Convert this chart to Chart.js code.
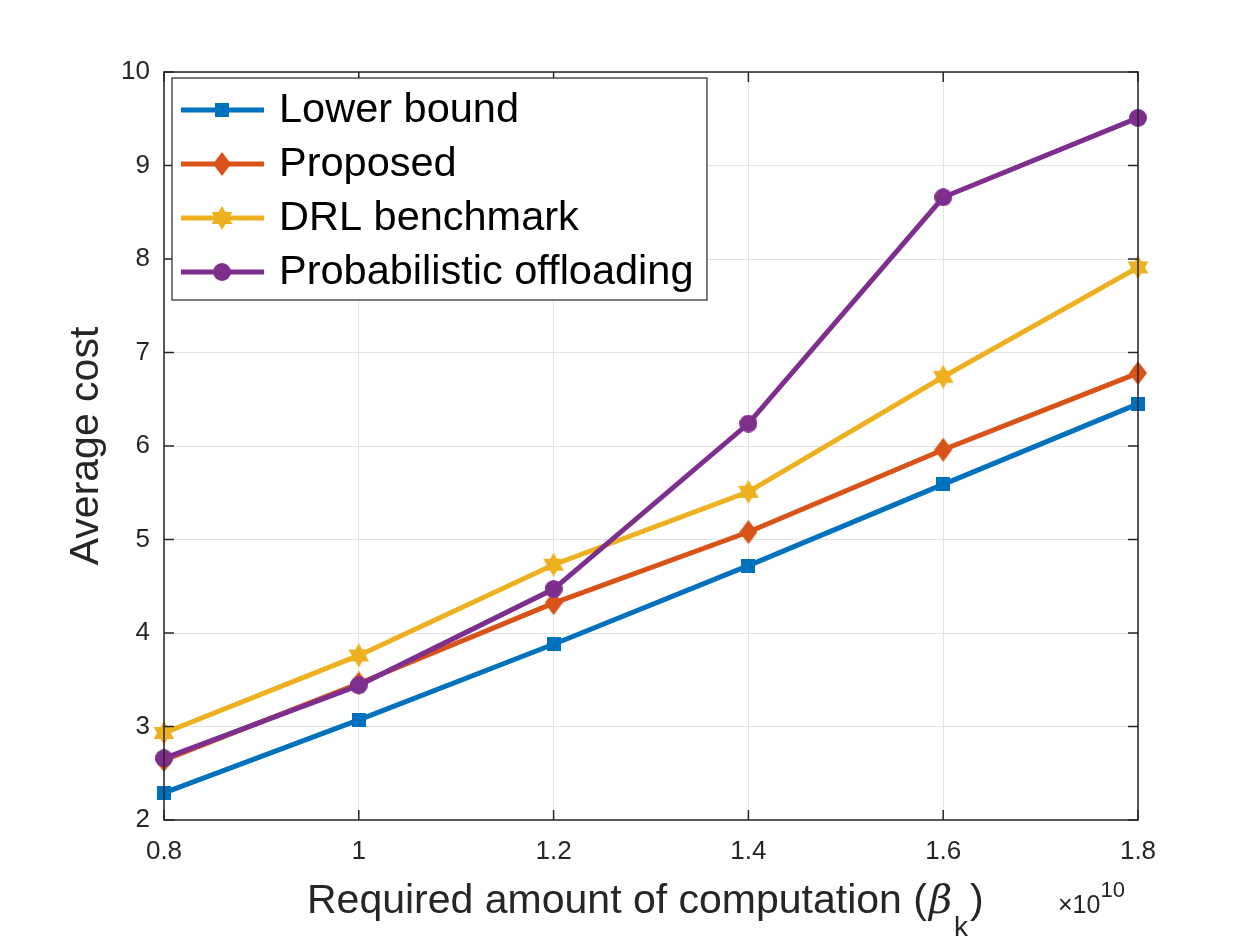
<!DOCTYPE html>
<html>
<head>
<meta charset="utf-8">
<script src="https://cdn.jsdelivr.net/npm/chart.js@4"></script>
<style>
  html, body { margin: 0; padding: 0; background: #fff; }
  #wrap { width: 1260px; height: 945px; }
</style>
</head>
<body>
<div id="wrap"><canvas id="grafikCost" width="1260" height="945"></canvas></div>
<script>
const xValues = [0.8, 1.0, 1.2, 1.4, 1.6, 1.8];
const xTickLabels = ['0.8', '1', '1.2', '1.4', '1.6', '1.8'];
const yTickValues = [2, 3, 4, 5, 6, 7, 8, 9, 10];
const lowerBound = [2.29, 3.07, 3.88, 4.72, 5.59, 6.45];
const proposed = [2.64, 3.46, 4.32, 5.08, 5.96, 6.78];
const drlBenchmark = [2.93, 3.76, 4.73, 5.51, 6.74, 7.91];
const probOffloading = [2.66, 3.44, 4.47, 6.24, 8.66, 9.51];
const seriesNames = ['Lower bound', 'Proposed', 'DRL benchmark', 'Probabilistic offloading'];

const FONT = '"Liberation Sans", Arial, sans-serif';
const AXIS = '#262626';

// marker images (MATLAB style: square, diamond, hexagram, circle)
function makeMarker(kind, color) {
    const c = document.createElement('canvas');
    const w = kind === 'diamond' ? 18 : (kind === 'hexagram' ? 24 : (kind === 'square' ? 14 : 18));
    const h = kind === 'diamond' ? 24 : (kind === 'hexagram' ? 24 : (kind === 'square' ? 14 : 18));
    c.width = w; c.height = h;
    const g = c.getContext('2d');
    g.fillStyle = color;
    g.beginPath();
    if (kind === 'square') {
        g.rect(0, 0, w, h);
    } else if (kind === 'diamond') {
        g.moveTo(w / 2, 0); g.lineTo(w, h / 2); g.lineTo(w / 2, h); g.lineTo(0, h / 2);
    } else if (kind === 'circle') {
        g.arc(w / 2, h / 2, w / 2, 0, Math.PI * 2);
    } else {
        const R = 12, r = R / Math.sqrt(3);
        for (let i = 0; i < 12; i++) {
            const rad = i % 2 === 0 ? R : r;
            const a = -Math.PI / 2 + i * Math.PI / 6;
            const px = w / 2 + rad * Math.cos(a), py = h / 2 + rad * Math.sin(a);
            if (i === 0) g.moveTo(px, py); else g.lineTo(px, py);
        }
    }
    g.closePath();
    g.fill();
    return c;
}

const colors = ['#0072BD', '#D95319', '#EDB120', '#7E2F8E'];
const kinds = ['square', 'diamond', 'hexagram', 'circle'];
const markers = kinds.map((k, i) => makeMarker(k, colors[i]));
const seriesData = [lowerBound, proposed, drlBenchmark, probOffloading];

const datasets = seriesData.map((vals, i) => ({
    label: seriesNames[i],
    data: vals.map((v, j) => ({ x: xValues[j], y: v })),
    borderColor: colors[i],
    backgroundColor: colors[i],
    borderWidth: 5,
    pointStyle: markers[i],
    pointRadius: 8,
    order: 4 - i,
    clip: false,
    tension: 0
}));

const matlabFrame = {
    id: 'matlabFrame',
    afterDatasetsDraw(chart) {
        const { ctx, chartArea: a, scales } = chart;
        ctx.save();
        // box
        ctx.strokeStyle = AXIS;
        ctx.lineWidth = 1.5;
        ctx.strokeRect(a.left, a.top, a.right - a.left, a.bottom - a.top);
        // inward ticks
        ctx.beginPath();
        xValues.forEach(v => {
            const px = scales.x.getPixelForValue(v);
            ctx.moveTo(px, a.bottom); ctx.lineTo(px, a.bottom - 10);
            ctx.moveTo(px, a.top); ctx.lineTo(px, a.top + 10);
        });
        yTickValues.forEach(v => {
            const py = scales.y.getPixelForValue(v);
            ctx.moveTo(a.left, py); ctx.lineTo(a.left + 10, py);
            ctx.moveTo(a.right, py); ctx.lineTo(a.right - 10, py);
        });
        ctx.stroke();

        // legend box
        const lx = 172, ly = 78, lw = 535, lh = 222;
        ctx.fillStyle = '#fff';
        ctx.fillRect(lx, ly, lw, lh);
        ctx.strokeStyle = AXIS;
        ctx.lineWidth = 1.2;
        ctx.strokeRect(lx, ly, lw, lh);
        ctx.font = '41.5px ' + FONT;
        ctx.textBaseline = 'middle';
        ctx.textAlign = 'left';
        seriesNames.forEach((name, i) => {
            const cy = 110 + i * 54;
            ctx.strokeStyle = colors[i];
            ctx.lineWidth = 5;
            ctx.beginPath();
            ctx.moveTo(181, cy); ctx.lineTo(264, cy);
            ctx.stroke();
            const m = markers[i];
            ctx.drawImage(m, 222 - m.width / 2, cy - m.height / 2);
            ctx.fillStyle = '#000';
            ctx.fillText(name, 279, cy + 1);
        });

        // axis titles
        ctx.fillStyle = AXIS;
        ctx.save();
        ctx.translate(87, (a.top + a.bottom) / 2);
        ctx.rotate(-Math.PI / 2);
        ctx.textAlign = 'center';
        ctx.textBaseline = 'middle';
        ctx.font = '41px ' + FONT;
        ctx.fillText('Average cost', 0, 0);
        ctx.restore();

        ctx.textBaseline = 'alphabetic';
        ctx.textAlign = 'left';
        ctx.font = '41px ' + FONT;
        const base = 913;
        const part1 = 'Required amount of computation (';
        ctx.fillText(part1, 307, base);
        let x = 307 + ctx.measureText(part1).width + 2;
        ctx.font = 'italic 40px "DejaVu Serif", serif';
        ctx.fillText('\u03B2', x, base);
        x += ctx.measureText('\u03B2').width + 2;
        ctx.font = '28px ' + FONT;
        ctx.fillText('k', x, base + 23);
        x += ctx.measureText('k').width + 2;
        ctx.font = '41px ' + FONT;
        ctx.fillText(')', x, base);

        // exponent label
        ctx.font = '25px ' + FONT;
        ctx.fillText('\u00D710', 1058, 913);
        const ew = ctx.measureText('\u00D710').width;
        ctx.font = '22px ' + FONT;
        ctx.fillText('10', 1058 + ew, 897);
        ctx.restore();
    }
};

const ctx = document.getElementById('grafikCost').getContext('2d');
const chart = new Chart(ctx, {
    type: 'line',
    data: { datasets: datasets },
    plugins: [matlabFrame],
    options: {
        responsive: false,
        animation: false,
        devicePixelRatio: 1,
        layout: { padding: { top: 72, right: 122, left: 0, bottom: 0 } },
        plugins: { legend: { display: false }, tooltip: { enabled: false } },
        scales: {
            x: {
                type: 'linear',
                min: 0.8,
                max: 1.8,
                afterBuildTicks: s => { s.ticks = xValues.map(v => ({ value: v })); },
                afterFit: s => { s.height = 125; },
                ticks: {
                    callback: (v, i) => xTickLabels[i],
                    color: AXIS,
                    font: { family: FONT, size: 26 },
                    padding: 16,
                    maxRotation: 0
                },
                grid: { color: '#e3e3e3', lineWidth: 1, drawTicks: false },
                border: { display: false }
            },
            y: {
                min: 2,
                max: 10,
                afterBuildTicks: s => { s.ticks = yTickValues.map(v => ({ value: v })); },
                afterFit: s => { s.width = 164; },
                ticks: {
                    color: AXIS,
                    font: { family: FONT, size: 26 },
                    padding: 14
                },
                grid: { color: '#e3e3e3', lineWidth: 1, drawTicks: false },
                border: { display: false }
            }
        }
    }
});
</script>
</body>
</html>
